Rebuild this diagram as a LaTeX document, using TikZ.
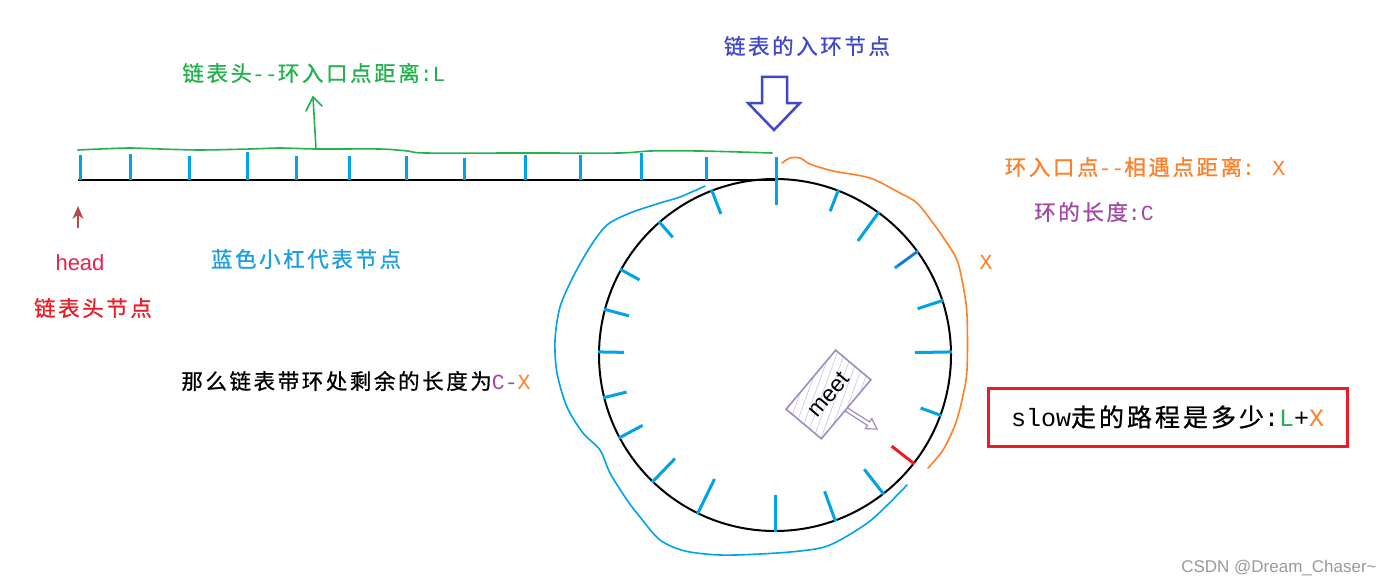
\documentclass[tikz,border=0pt]{standalone}
\usepackage{fontspec}
\setmainfont{Liberation Sans}
\newfontfamily\cjk[LetterSpace=12,FakeBold=0.8]{Noto Sans CJK SC}
\newfontfamily\lat{Liberation Mono}
\usetikzlibrary{calc,patterns.meta,arrows.meta}
\definecolor{pgreen}{HTML}{22B14C}
\definecolor{pindigo}{HTML}{3F48CC}
\definecolor{porange}{HTML}{FF7F27}
\definecolor{ppurple}{HTML}{A349A4}
\definecolor{pred}{HTML}{ED1C24}
\definecolor{pcrimson}{HTML}{E8224A}
\definecolor{pblue}{HTML}{00A2E8}
\definecolor{pbluetext}{HTML}{1A9FE0}
\definecolor{headarrow}{HTML}{B84A4A}
\definecolor{meetline}{HTML}{A08CC0}
\definecolor{meethatch}{HTML}{CFC6E6}
\definecolor{wmark}{HTML}{9A9A9A}
\begin{document}
\begin{tikzpicture}[x=1pt,y=-1pt,
  lbl/.style={inner sep=0pt, font=\fontsize{21.5}{24}\selectfont},
  tickmark/.style={draw=pblue, line width=3pt},
  wave/.style={line width=1.6pt, line cap=round, line join=round},
  meetbox/.style={draw=meetline, line width=1.6pt, minimum width=77pt, minimum height=46pt,
     inner sep=0pt, pattern={Lines[angle=70,distance=7pt,line width=0.7pt]}, pattern color=meethatch,
     font=\fontsize{23}{25}\selectfont}
]
\useasboundingbox (0,0) rectangle (1400,586);
\fill[white] (0,0) rectangle (1400,586);

% ring and list
\coordinate (c) at (775,355);
\draw[line width=2pt] (c) circle[radius=176pt];
\draw[line width=2.5pt] (78,180) -- (775,180);

% ticks on the straight part
\foreach \x/\t in {80/155,130/154,189/156,247/152,296/156,349/156,406/156,464/158,525/155,580/155,641/153,706/157}
  \draw[tickmark] (\x,\t) -- (\x,180);
\draw[tickmark] (776,157) -- (776,205);

% ticks on the ring
\foreach \a/\l in {69/23,54/36,36/29,18/27,1/37,-20/22,-52/32,-70/32,-90/37,-116/39,-134/33,-152/27,-166/24,179/26,165/26,151/22,131/21,111/26}
{
  \pgfmathsetmacro\ri{177-\l}
  \draw[tickmark] ($(c)+(\a:177pt)$) -- ($(c)+(\a:\ri pt)$);
}
\draw[draw=pred, line width=3pt] ($(c)+(-38:177pt)$) -- ($(c)+(-38:148pt)$);
\draw[draw=pindigo!70!pblue, line width=1.5pt] ($(c)+(36:175pt)$) -- ($(c)+(36:152pt)$);

% green distance line and arrow
\draw[pgreen, wave] plot[smooth, tension=0.4] coordinates {(78,150) (100,149) (130,148) (160,149) (200,150) (250,149) (280,148) (316,149) (380,149) (408,151) (425,153) (530,153) (620,153) (650,151) (700,151) (740,152) (772,153)};
\coordinate (gbase) at (316,149);
\coordinate (gtip) at (313,97);
\draw[pgreen, wave] (gbase) -- (gtip);
\draw[pgreen, wave] (306,111) -- (gtip) -- (322,106);

% blue wavy (C - X)
\draw[pblue, wave] plot[smooth, tension=0.5] coordinates {(705,186) (680,197) (660,203) (630,213) (607,225) (590,247) (573,277) (560,307) (555,340) (557,373) (567,407) (583,433) (600,450) (610,473) (627,500) (640,517) (660,540) (685,551) (720,555) (760,554) (800,551) (830,545) (870,521) (907,485)};

% orange wavy (X)
\draw[porange, wave] plot[smooth, tension=0.5] coordinates {(782,163) (790,158) (800,158) (810,164) (833,171) (870,178) (900,193) (917,203) (933,223) (945,240) (957,260) (963,285) (967,315) (967,370) (962,400) (955,425) (943,450) (928,468)};

% entry-node hollow arrow
\coordinate (entrytip) at (774,130);
\draw[pindigo, line width=2.5pt, line join=miter] (762,77) -- (787,77) -- (787,103) -- (800,103) -- (entrytip) -- (748,103) -- (762,103) -- cycle;

% labels
\node[lbl, text=pgreen] (ltxt) at (314,73) {{\cjk 链表头}{\lat --}{\cjk 环入口点距离}{\lat :L}};
\node[lbl, text=pindigo] (entry) at (807,46) {\cjk 链表的入环节点};
\node[lbl, text=porange] (xtxt) at (1145,167) {{\cjk 环入口点}{\lat --}{\cjk 相遇点距离}{\lat : X}};
\node[lbl, text=ppurple] (ctxt) at (1094,212) {{\cjk 环的长度}{\lat :C}};
\node[lbl, text=porange] (xlab) at (986,262) {\lat X};
\node[lbl, text=pbluetext] (bluetxt) at (306,259) {\cjk 蓝色小杠代表节点};
\node[lbl, text=black] (rest) at (356,381) {{\cjk 那么链表带环处剩余的长度为}{\lat\textcolor{ppurple}{C-}\textcolor{porange}{X}}};

% head
\node[inner sep=0pt, text=pcrimson, font=\fontsize{22}{24}\selectfont] (head) at (80,263) {head};
\node[lbl, text=pred] (headcn) at (93,308) {\cjk 链表头节点};
\coordinate (hs) at (78,228);
\coordinate (ht) at (78,206);
\draw[headarrow, line width=2pt, -{Stealth[length=13pt,width=11pt]}] (hs) -- (ht);

% slow box
\node[draw=pred, line width=3pt, minimum width=359pt, minimum height=58pt, inner sep=0pt,
  font=\fontsize{25}{28}\selectfont] (slow) at (1167.5,417)
  {{\lat slow}{\cjk 走的路程是多少}{\lat :\textcolor{pgreen}{L}+\textcolor{porange}{X}}};

% meet
\node[meetbox, rotate=50] (meet) at (828.5,394.5) {meet};
\coordinate (mtip) at (877,429);
\coordinate (mb) at ($(mtip)!10pt!(meet.south)$);
\draw[meetline, line width=1.2pt, line join=miter]
  ($(meet.south)!2pt!90:(mtip)$) -- ($(mb)!2pt!90:(mtip)$) -- ($(mb)!6pt!90:(mtip)$) -- (mtip)
  -- ($(mb)!6pt!-90:(mtip)$) -- ($(mb)!2pt!-90:(mtip)$) -- ($(meet.south)!2pt!-90:(mtip)$);

% watermark
\node[inner sep=0pt, text=wmark, font=\fontsize{17}{19}\selectfont] (wm) at (1279,568) {CSDN @Dream\_Chaser\textasciitilde};
\end{tikzpicture}
\end{document}
